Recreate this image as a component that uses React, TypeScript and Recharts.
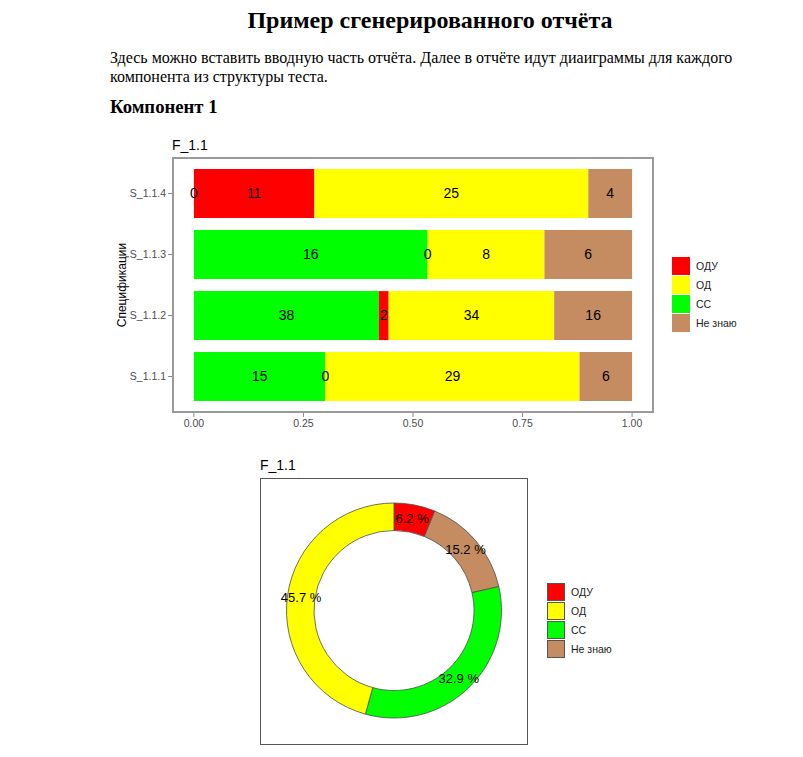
import React from 'react';
import { BarChart, Bar, XAxis, YAxis, ReferenceDot, PieChart, Pie, Cell } from 'recharts';

// counts per specification (bottom to top in the chart)
const specs = ['S_1.1.1', 'S_1.1.2', 'S_1.1.3', 'S_1.1.4'];
const odu = [0, 2, 0, 11];
const od = [29, 34, 8, 25];
const cc = [15, 38, 16, 0];
const dontKnow = [6, 16, 6, 4];
const xTicks = [0, 0.25, 0.5, 0.75, 1];

const legendNames = ['ОДУ', 'ОД', 'СС', 'Не знаю'];
const legendColors = ['#ff0000', '#ffff00', '#00ff00', '#c48c60'];

// stacking order left -> right
const barSeries = [
  { key: 'cc', values: cc, color: '#00ff00' },
  { key: 'odu', values: odu, color: '#ff0000' },
  { key: 'od', values: od, color: '#ffff00' },
  { key: 'dontKnow', values: dontKnow, color: '#c48c60' },
];

const rowTotals = specs.map((_, i) => barSeries.reduce((s, b) => s + b.values[i], 0));

// shares for the 100% stack
const barData = specs.map((spec, i) => {
  const row: Record<string, any> = { spec };
  barSeries.forEach((b) => {
    row[b.key] = b.values[i] / rowTotals[i];
  });
  return row;
});

// count labels at the middle of each segment (drawn on top of all bars)
const barLabels = specs.flatMap((spec, i) => {
  let cum = 0;
  return barSeries.map((b) => {
    const share = b.values[i] / rowTotals[i];
    const mid = cum + share / 2;
    cum += share;
    return { spec, x: mid, count: b.values[i], key: `${spec}-${b.key}` };
  });
});

const sum = (a: number[]) => a.reduce((s, v) => s + v, 0);

// clockwise from 12 o'clock
const pieData = [
  { name: 'ОДУ', value: sum(odu), color: '#ff0000' },
  { name: 'Не знаю', value: sum(dontKnow), color: '#c48c60' },
  { name: 'СС', value: sum(cc), color: '#00ff00' },
  { name: 'ОД', value: sum(od), color: '#ffff00' },
];

const SANS = '"Liberation Sans", Arial, sans-serif';
const SERIF = '"Liberation Serif", "Times New Roman", serif';
const RADIAN = Math.PI / 180;

function Legend({ left, top, bordered }: { left: number; top: number; bordered: boolean }) {
  return (
    <div style={{ position: 'absolute', left, top, fontFamily: SANS, fontSize: 10.5, color: '#1a1a1a' }}>
      {legendNames.map((name, i) => (
        <div key={name} style={{ display: 'flex', alignItems: 'center', height: 18.75 }}>
          <div
            style={{
              width: 18,
              height: 18,
              boxSizing: 'border-box',
              background: legendColors[i],
              border: bordered ? '0.7px solid #555' : 'none',
            }}
          />
          <span style={{ marginLeft: 6 }}>{name}</span>
        </div>
      ))}
    </div>
  );
}

const renderPieLabel = (props: any) => {
  const { cx, cy, midAngle, innerRadius, outerRadius, percent } = props;
  const r = (innerRadius + outerRadius) / 2;
  const x = cx + r * Math.cos(-midAngle * RADIAN);
  const y = cy + r * Math.sin(-midAngle * RADIAN);
  return (
    <text x={x} y={y} textAnchor="middle" dominantBaseline="central" fill="#000" fontSize={13}>
      {`${(percent * 100).toFixed(1)} %`}
    </text>
  );
};

export default function App() {
  return (
    <div style={{ position: 'relative', width: 795, height: 749, margin: '-8px -8px 0 -8px' }}>
      <div
        style={{
          position: 'absolute', left: 110, top: 8, width: 640, textAlign: 'center',
          fontFamily: SERIF, fontWeight: 'bold', fontSize: 24, lineHeight: '24px',
        }}
      >
        Пример сгенерированного отчёта
      </div>
      <div
        style={{
          position: 'absolute', left: 110, top: 49, width: 640,
          fontFamily: SERIF, fontSize: 16, lineHeight: '18.5px',
        }}
      >
        Здесь можно вставить вводную часть отчёта. Далее в отчёте идут диаиграммы для каждого
        компонента из структуры теста.
      </div>
      <div
        style={{
          position: 'absolute', left: 110, top: 98.3,
          fontFamily: SERIF, fontWeight: 'bold', fontSize: 18.72, lineHeight: '18.72px',
        }}
      >
        Компонент 1
      </div>

      {/* bar chart */}
      <div style={{ position: 'absolute', left: 172, top: 138, fontFamily: SANS, fontSize: 14, lineHeight: '14px' }}>
        F_1.1
      </div>
      <div style={{ position: 'absolute', left: 110, top: 130, fontFamily: SANS }}>
        <BarChart
          width={640}
          height={310}
          data={barData}
          layout="vertical"
          barCategoryGap="10%"
          margin={{ top: 27, right: 96, bottom: 0, left: 0 }}
        >
          <XAxis
            type="number"
            domain={[-0.05, 1.05]}
            ticks={xTicks}
            tickFormatter={(v: number) => v.toFixed(2)}
            axisLine={false}
            tickLine={{ stroke: '#8c8c8c' }}
            tickSize={4}
            tickMargin={3}
            height={27}
            tick={{ fontSize: 10.5, fill: '#4d4d4d' }}
          />
          <YAxis
            type="category"
            dataKey="spec"
            reversed
            width={62}
            padding={{ top: 6, bottom: 6 }}
            axisLine={false}
            tickLine={{ stroke: '#8c8c8c' }}
            tickSize={4}
            tickMargin={2}
            tick={{ fontSize: 10.5, fill: '#4d4d4d' }}
            label={{
              value: 'Спецификации',
              angle: -90,
              position: 'insideLeft',
              offset: 12,
              style: { textAnchor: 'middle', fontSize: 12, fill: '#000' },
            }}
          />
          {barSeries.map((s) => (
            <Bar key={s.key} dataKey={s.key} stackId="a" fill={s.color} isAnimationActive={false} />
          ))}
          {barLabels.map((p) => (
            <ReferenceDot
              key={p.key}
              x={p.x}
              y={p.spec}
              r={0}
              fill="none"
              stroke="none"
              ifOverflow="visible"
              label={{ value: String(p.count), position: 'center', fill: '#000', fontSize: 14 }}
            />
          ))}
        </BarChart>
      </div>
      <div
        style={{
          position: 'absolute', left: 171.5, top: 156.5, width: 482, height: 256,
          border: '2px solid #9a9a9a', boxSizing: 'border-box', pointerEvents: 'none',
        }}
      />
      <Legend left={672} top={257} bordered={false} />

      {/* donut chart */}
      <div style={{ position: 'absolute', left: 260, top: 458, fontFamily: SANS, fontSize: 14, lineHeight: '14px' }}>
        F_1.1
      </div>
      <div style={{ position: 'absolute', left: 260, top: 478, fontFamily: SANS }}>
        <PieChart width={268} height={267} margin={{ top: 0, right: 0, bottom: 0, left: 0 }}>
          <Pie
            data={pieData}
            dataKey="value"
            nameKey="name"
            cx={134}
            cy={132.5}
            innerRadius={80}
            outerRadius={107.5}
            startAngle={90}
            endAngle={-270}
            stroke="#4d4d4d"
            strokeWidth={0.8}
            label={renderPieLabel}
            labelLine={false}
            isAnimationActive={false}
          >
            {pieData.map((d) => (
              <Cell key={d.name} fill={d.color} />
            ))}
          </Pie>
        </PieChart>
      </div>
      <div
        style={{
          position: 'absolute', left: 260, top: 478, width: 268, height: 267,
          border: '1px solid #555', boxSizing: 'border-box', pointerEvents: 'none',
        }}
      />
      <Legend left={547} top={583} bordered />
    </div>
  );
}
